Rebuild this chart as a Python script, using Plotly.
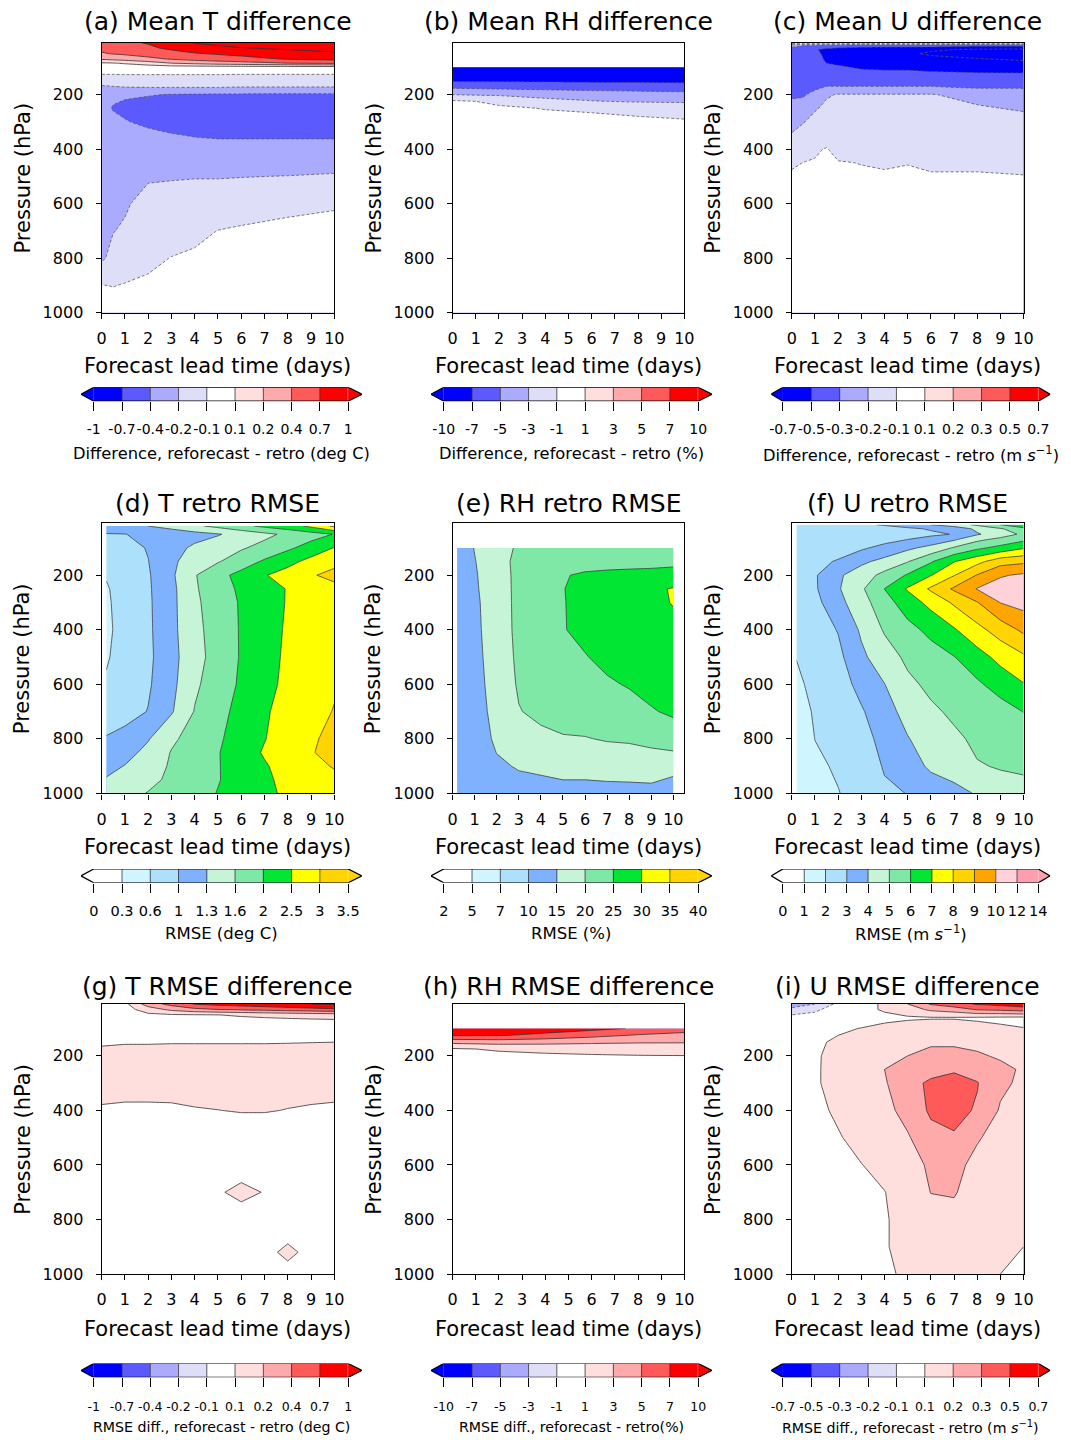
import numpy as np
import plotly.graph_objects as go

W, H = 1071, 1440
FONT = "DejaVu Sans"

# ---------------- contour levels (also colour-bar tick labels) ----------------
T_DIFF_LEVELS = [-1, -0.7, -0.4, -0.2, -0.1, 0.1, 0.2, 0.4, 0.7, 1]
RH_DIFF_LEVELS = [-10, -7, -5, -3, -1, 1, 3, 5, 7, 10]
U_DIFF_LEVELS = [-0.7, -0.5, -0.3, -0.2, -0.1, 0.1, 0.2, 0.3, 0.5, 0.7]
T_RMSE_LEVELS = [0, 0.3, 0.6, 1, 1.3, 1.6, 2, 2.5, 3, 3.5]
RH_RMSE_LEVELS = [2, 5, 7, 10, 15, 20, 25, 30, 35, 40]
U_RMSE_LEVELS = [0, 1, 2, 3, 4, 5, 6, 7, 8, 9, 10, 12, 14]

# colours: [below-range, band1 ... bandN, above-range]
DIFF_COLORS = ["#0000ff", "#0000ff", "#5a5aff", "#aaaaff", "#dedef8", "#ffffff",
               "#ffdede", "#ffaaaa", "#ff5a5a", "#ff0000", "#ff0000"]
RMSE9_COLORS = ["#ffffff", "#ffffff", "#cff6ff", "#ade0fa", "#7eb2ff", "#c6f4d6",
                "#80e8a6", "#00e632", "#ffff00", "#ffd400", "#ffd400"]
RMSE12_COLORS = ["#ffffff", "#ffffff", "#cff6ff", "#ade0fa", "#7eb2ff", "#c6f4d6",
                 "#80e8a6", "#00e632", "#ffff00", "#ffd400", "#ffa500", "#ffd2da",
                 "#ff9eac", "#ff9eac"]

# ---------------- (a) Mean T difference ----------------
A_LEAD = [0, 0.5, 1, 2, 3, 4, 5, 6, 8, 10]
A_PRES = [10, 30, 50, 70, 85, 100, 120, 150, 175, 200, 250, 300, 350, 400, 500, 600, 700, 800, 900, 1000]
A_VALS = [
    [0.55, 0.6, 0.65, 0.72, 0.85, 1.02, 1.1, 1.15, 1.25, 1.3],
    [0.48, 0.52, 0.56, 0.65, 0.75, 0.85, 0.92, 0.98, 1.05, 1.1],
    [0.38, 0.42, 0.45, 0.52, 0.6, 0.68, 0.73, 0.78, 0.88, 0.95],
    [0.22, 0.25, 0.28, 0.35, 0.42, 0.5, 0.55, 0.6, 0.72, 0.78],
    [0.08, 0.09, 0.11, 0.15, 0.2, 0.25, 0.3, 0.33, 0.4, 0.45],
    [-0.02, -0.02, -0.02, -0.01, 0.0, 0.0, 0.0, 0.0, 0.0, 0.0],
    [-0.07, -0.07, -0.07, -0.07, -0.07, -0.07, -0.07, -0.07, -0.07, -0.07],
    [-0.16, -0.16, -0.15, -0.15, -0.15, -0.15, -0.15, -0.16, -0.16, -0.16],
    [-0.24, -0.22, -0.21, -0.205, -0.205, -0.205, -0.205, -0.21, -0.21, -0.21],
    [-0.3, -0.36, -0.38, -0.39, -0.41, -0.42, -0.43, -0.43, -0.44, -0.44],
    [-0.33, -0.42, -0.45, -0.5, -0.55, -0.57, -0.58, -0.58, -0.58, -0.58],
    [-0.3, -0.35, -0.39, -0.45, -0.48, -0.5, -0.5, -0.5, -0.5, -0.5],
    [-0.28, -0.3, -0.32, -0.36, -0.39, -0.41, -0.42, -0.42, -0.42, -0.42],
    [-0.28, -0.28, -0.3, -0.32, -0.34, -0.35, -0.36, -0.36, -0.36, -0.36],
    [-0.28, -0.27, -0.25, -0.22, -0.215, -0.21, -0.21, -0.205, -0.198, -0.19],
    [-0.27, -0.24, -0.22, -0.17, -0.16, -0.15, -0.15, -0.14, -0.11, -0.105],
    [-0.25, -0.205, -0.19, -0.15, -0.14, -0.12, -0.097, -0.08, -0.08, -0.07],
    [-0.23, -0.17, -0.15, -0.12, -0.095, -0.075, -0.07, -0.06, -0.05, -0.05],
    [-0.095, -0.102, -0.09, -0.07, -0.06, -0.05, -0.04, -0.03, -0.03, -0.03],
    [-0.04, -0.04, -0.04, -0.03, -0.03, -0.03, -0.03, -0.03, -0.03, -0.03],
]

# ---------------- (b) Mean RH difference ----------------
B_LEAD = [0, 2, 4, 6, 8, 10]
B_PRES = [100, 125, 150, 175, 200, 225, 250, 300, 400, 600, 1000]
B_VALS = [
    [-9.8, -9.8, -9.8, -9.8, -9.8, -9.8],
    [-9.0, -9.0, -9.0, -9.0, -9.0, -9.0],
    [-7.3, -7.3, -7.4, -7.5, -7.5, -7.6],
    [-5.2, -5.4, -5.6, -5.8, -5.9, -6.0],
    [-3.05, -3.3, -3.6, -3.9, -4.1, -4.3],
    [-0.7, -1.3, -2.5, -2.9, -3.2, -3.3],
    [-0.5, -0.8, -1.05, -1.15, -1.3, -1.6],
    [-0.3, -0.5, -0.6, -0.7, -0.8, -0.85],
    [-0.2, -0.2, -0.2, -0.2, -0.2, -0.2],
    [-0.1, -0.1, -0.1, -0.1, -0.1, -0.1],
    [0.0, 0.0, 0.0, 0.0, 0.0, 0.0],
]

# ---------------- (c) Mean U difference ----------------
C_LEAD = [0, 0.5, 1, 1.5, 2, 3, 4, 5, 6, 8, 10]
C_PRES = [10, 20, 35, 50, 75, 100, 125, 150, 175, 200, 250, 300, 350, 400, 450, 500, 600, 800, 1000]
C_VALS = [
    [0.02, 0.02, 0.02, 0.02, 0.02, 0.02, 0.02, 0.02, 0.02, 0.02, 0.02],
    [-0.25, -0.3, -0.3, -0.35, -0.35, -0.4, -0.4, -0.4, -0.4, -0.45, -0.45],
    [-0.4, -0.45, -0.48, -0.55, -0.6, -0.62, -0.65, -0.65, -0.68, -0.72, -0.74],
    [-0.4, -0.48, -0.45, -0.55, -0.6, -0.62, -0.65, -0.68, -0.72, -0.75, -0.76],
    [-0.38, -0.42, -0.42, -0.52, -0.55, -0.58, -0.6, -0.62, -0.65, -0.68, -0.7],
    [-0.38, -0.4, -0.4, -0.47, -0.48, -0.52, -0.53, -0.53, -0.55, -0.58, -0.6],
    [-0.37, -0.38, -0.38, -0.42, -0.43, -0.45, -0.46, -0.46, -0.47, -0.48, -0.48],
    [-0.36, -0.36, -0.36, -0.37, -0.38, -0.38, -0.38, -0.38, -0.38, -0.38, -0.38],
    [-0.35, -0.35, -0.33, -0.29, -0.29, -0.29, -0.29, -0.29, -0.29, -0.31, -0.31],
    [-0.33, -0.32, -0.27, -0.21, -0.195, -0.195, -0.195, -0.195, -0.195, -0.23, -0.25],
    [-0.27, -0.26, -0.21, -0.18, -0.17, -0.17, -0.17, -0.17, -0.17, -0.19, -0.21],
    [-0.24, -0.205, -0.17, -0.16, -0.15, -0.15, -0.15, -0.15, -0.15, -0.16, -0.17],
    [-0.19, -0.16, -0.15, -0.14, -0.14, -0.14, -0.14, -0.14, -0.14, -0.14, -0.15],
    [-0.15, -0.13, -0.11, -0.09, -0.13, -0.12, -0.13, -0.13, -0.13, -0.13, -0.14],
    [-0.11, -0.098, -0.09, -0.08, -0.09, -0.102, -0.11, -0.102, -0.11, -0.11, -0.12],
    [-0.08, -0.07, -0.06, -0.06, -0.07, -0.08, -0.08, -0.08, -0.09, -0.09, -0.095],
    [-0.05, -0.05, -0.05, -0.05, -0.05, -0.05, -0.05, -0.05, -0.05, -0.05, -0.05],
    [-0.03, -0.03, -0.03, -0.03, -0.03, -0.03, -0.03, -0.03, -0.03, -0.03, -0.03],
    [-0.02, -0.02, -0.02, -0.02, -0.02, -0.02, -0.02, -0.02, -0.02, -0.02, -0.02],
]

# ---------------- (d) T retro RMSE ----------------
D_LEAD = [0.2, 1, 2, 3, 4, 5, 6, 7, 8, 9, 10]
D_PRES = [20, 50, 100, 150, 200, 250, 300, 400, 500, 600, 700, 800, 850, 900, 950, 1000]
D_VALS = [
    [1.15, 1.2, 1.3, 1.4, 1.55, 1.7, 1.9, 2.1, 2.3, 2.6, 3.1],
    [0.98, 0.99, 1.08, 1.13, 1.2, 1.28, 1.4, 1.53, 1.68, 1.84, 2.02],
    [0.75, 0.85, 1.02, 1.2, 1.35, 1.45, 1.57, 1.72, 1.93, 2.2, 2.52],
    [0.68, 0.8, 0.99, 1.26, 1.4, 1.58, 1.8, 2.07, 2.35, 2.65, 2.85],
    [0.62, 0.75, 0.96, 1.25, 1.58, 1.88, 2.15, 2.47, 2.7, 2.95, 3.15],
    [0.58, 0.72, 0.95, 1.22, 1.57, 1.8, 2.1, 2.35, 2.52, 2.7, 2.85],
    [0.57, 0.71, 0.94, 1.22, 1.55, 1.78, 2.05, 2.3, 2.53, 2.65, 2.75],
    [0.56, 0.7, 0.93, 1.22, 1.52, 1.77, 2.04, 2.33, 2.55, 2.7, 2.8],
    [0.58, 0.71, 0.92, 1.2, 1.5, 1.75, 2.04, 2.35, 2.57, 2.72, 2.85],
    [0.63, 0.75, 0.95, 1.22, 1.55, 1.8, 2.07, 2.37, 2.6, 2.8, 2.95],
    [0.8, 0.85, 1.01, 1.27, 1.62, 1.88, 2.15, 2.45, 2.65, 2.85, 3.02],
    [1.02, 1.1, 1.28, 1.55, 1.75, 1.95, 2.2, 2.48, 2.75, 2.95, 3.1],
    [1.12, 1.2, 1.38, 1.62, 1.8, 1.98, 2.25, 2.55, 2.8, 2.98, 3.1],
    [1.22, 1.31, 1.45, 1.65, 1.82, 1.98, 2.22, 2.45, 2.7, 2.88, 3.03],
    [1.32, 1.4, 1.52, 1.68, 1.83, 1.98, 2.2, 2.42, 2.62, 2.78, 2.9],
    [1.4, 1.5, 1.62, 1.72, 1.85, 2.02, 2.18, 2.4, 2.58, 2.72, 2.85],
]

# ---------------- (e) RH retro RMSE ----------------
E_LEAD = [0.2, 1, 2, 3, 4, 5, 6, 7, 8, 9, 10]
E_PRES = [100, 150, 200, 250, 300, 400, 500, 600, 700, 800, 850, 900, 950, 1000]
E_VALS = [
    [12, 15.2, 18.5, 20.5, 22, 23, 23.5, 23.5, 24, 24, 24.5],
    [12, 14.8, 18.5, 21, 23, 23.5, 23.8, 24, 24, 24, 24],
    [12, 14.5, 18.2, 21, 23.5, 24.8, 25.4, 25.6, 25.8, 26, 26.5],
    [12, 14.3, 18.1, 21, 23.5, 24.9, 26, 26.8, 27.5, 29.2, 30.3],
    [12, 14, 18, 21, 23.5, 24.8, 26.3, 27.3, 28.3, 29.5, 30.1],
    [12, 13.8, 17.8, 21, 23.5, 24.8, 26, 27, 28, 29, 29.5],
    [12, 13.5, 17.5, 20.8, 23, 24.5, 24.8, 26, 27, 28, 28.5],
    [12, 13.3, 17, 20.5, 22.5, 24, 23.5, 24.5, 25.3, 27, 27.5],
    [12, 13, 16.5, 19.8, 21, 22.5, 22, 22.5, 23.5, 24.5, 26],
    [12, 12.5, 15.8, 18, 19, 19.5, 19.8, 20.3, 20.5, 21, 21.5],
    [12, 12, 15.1, 17, 17.5, 18, 18.5, 18.8, 19, 19.5, 19.8],
    [11.5, 11.5, 14, 15.5, 16, 16.5, 16.8, 17, 17, 17.5, 16.5],
    [11, 11, 13, 14, 14.5, 15, 15, 15.2, 15.3, 15.5, 14.5],
    [10.5, 10.5, 12, 12.5, 13, 13.5, 13.5, 13.5, 13.5, 13.5, 13],
]

# ---------------- (f) U retro RMSE ----------------
F_LEAD = [0.2, 1, 2, 3, 4, 5, 6, 7, 8, 9, 10]
F_PRES = [15, 30, 50, 70, 100, 150, 200, 250, 300, 400, 500, 600, 700, 800, 900, 1000]
F_VALS = [
    [2.1, 2.3, 2.5, 2.8, 3.1, 3.5, 4.0, 4.5, 5.2, 6.0, 7.0],
    [2.05, 2.15, 2.25, 2.4, 2.6, 2.8, 3.1, 3.4, 4.2, 4.9, 5.6],
    [2.05, 2.1, 2.2, 2.3, 2.4, 2.6, 2.8, 3.05, 3.9, 4.5, 5.2],
    [2.1, 2.15, 2.3, 2.5, 2.7, 3.02, 3.4, 3.9, 4.8, 5.3, 5.8],
    [2.2, 2.3, 2.5, 2.85, 3.3, 3.8, 4.3, 5.1, 5.8, 6.3, 6.9],
    [2.35, 2.7, 3.1, 3.8, 4.3, 4.95, 5.9, 6.95, 7.7, 8.6, 8.8],
    [2.45, 2.9, 3.85, 4.5, 5.3, 6.1, 6.95, 7.95, 9.05, 9.9, 10.3],
    [2.4, 2.88, 3.9, 4.85, 6.01, 7.1, 8.15, 9.15, 10.1, 10.9, 11.6],
    [2.3, 2.7, 3.7, 4.6, 5.6, 6.5, 7.3, 8.15, 8.95, 10.05, 10.7],
    [2.15, 2.5, 3.05, 4.15, 5.1, 5.7, 6.25, 6.9, 7.7, 8.45, 9.2],
    [2.02, 2.35, 2.75, 3.8, 4.55, 5.2, 5.6, 5.97, 6.6, 7.3, 7.85],
    [1.85, 2.2, 2.55, 3.3, 3.98, 4.8, 5.2, 5.5, 5.85, 6.4, 6.95],
    [1.6, 2.1, 2.4, 2.9, 3.6, 4.35, 4.85, 5.15, 5.4, 5.6, 6.02],
    [1.4, 2.01, 2.25, 2.65, 3.3, 3.95, 4.45, 4.85, 5.15, 5.3, 5.5],
    [1.3, 1.85, 2.1, 2.45, 3.08, 3.45, 4.2, 4.3, 4.95, 5.05, 5.12],
    [1.2, 1.7, 1.97, 2.3, 2.85, 3.02, 3.3, 3.8, 4.05, 4.7, 4.75],
]

# ---------------- (g) T RMSE difference ----------------
G_LEAD = [0, 1, 2, 3, 4, 5, 6, 7, 8, 9, 10]
G_PRES = [10, 30, 50, 80, 120, 150, 200, 250, 300, 350, 400, 450, 550, 650, 700, 750, 850, 920, 1000]
G_VALS = [
    [0.02, 0.05, 0.3, 0.5, 0.72, 0.8, 0.85, 0.9, 0.95, 1.0, 1.05],
    [0.0, 0.02, 0.15, 0.25, 0.35, 0.4, 0.45, 0.5, 0.55, 0.6, 0.65],
    [0.0, 0.0, 0.06, 0.08, 0.09, 0.098, 0.11, 0.12, 0.13, 0.14, 0.15],
    [0.02, 0.02, 0.02, 0.02, 0.02, 0.02, 0.02, 0.02, 0.02, 0.02, 0.02],
    [0.05, 0.05, 0.05, 0.06, 0.06, 0.06, 0.06, 0.06, 0.07, 0.07, 0.08],
    [0.075, 0.085, 0.085, 0.09, 0.09, 0.09, 0.09, 0.09, 0.093, 0.097, 0.1],
    [0.13, 0.14, 0.14, 0.14, 0.14, 0.14, 0.14, 0.14, 0.14, 0.14, 0.14],
    [0.14, 0.14, 0.14, 0.14, 0.14, 0.14, 0.14, 0.14, 0.14, 0.14, 0.14],
    [0.13, 0.13, 0.13, 0.13, 0.13, 0.13, 0.13, 0.13, 0.13, 0.13, 0.13],
    [0.11, 0.108, 0.108, 0.108, 0.115, 0.12, 0.125, 0.125, 0.115, 0.11, 0.105],
    [0.085, 0.075, 0.075, 0.08, 0.09, 0.098, 0.105, 0.105, 0.095, 0.085, 0.085],
    [0.05, 0.05, 0.05, 0.05, 0.05, 0.05, 0.05, 0.05, 0.05, 0.05, 0.05],
    [0.04, 0.04, 0.04, 0.04, 0.04, 0.04, 0.04, 0.04, 0.04, 0.04, 0.04],
    [0.05, 0.05, 0.05, 0.05, 0.05, 0.05, 0.05, 0.05, 0.05, 0.05, 0.05],
    [0.04, 0.04, 0.04, 0.04, 0.04, 0.05, 0.16, 0.08, 0.04, 0.04, 0.04],
    [0.05, 0.05, 0.05, 0.05, 0.05, 0.05, 0.05, 0.05, 0.05, 0.05, 0.05],
    [0.05, 0.05, 0.05, 0.05, 0.05, 0.05, 0.05, 0.05, 0.05, 0.05, 0.05],
    [0.05, 0.05, 0.05, 0.05, 0.05, 0.05, 0.05, 0.05, 0.12, 0.05, 0.05],
    [0.04, 0.04, 0.04, 0.04, 0.04, 0.04, 0.04, 0.04, 0.04, 0.04, 0.04],
]

# ---------------- (h) RH RMSE difference ----------------
H_LEAD = [0, 2, 4, 6, 8, 10]
H_PRES = [100, 125, 150, 175, 200, 250, 1000]
H_VALS = [
    [9.5, 9.2, 8.5, 7.8, 6.8, 6.0],
    [7.3, 7.2, 6.5, 5.6, 4.8, 4.3],
    [3.5, 3.8, 3.6, 3.3, 3.1, 3.05],
    [0.8, 1.2, 1.5, 1.8, 2.2, 2.5],
    [0.5, 0.6, 0.7, 0.8, 0.9, 0.95],
    [0.3, 0.3, 0.3, 0.3, 0.3, 0.3],
    [0.0, 0.0, 0.0, 0.0, 0.0, 0.0],
]

# ---------------- (i) U RMSE difference ----------------
I_LEAD = [0, 1, 2, 3, 4, 5, 6, 7, 8, 9, 10]
I_PRES = [10, 30, 60, 100, 150, 200, 250, 300, 400, 500, 600, 700, 800, 900, 1000]
I_VALS = [
    [-0.3, -0.2, -0.05, 0.0, 0.12, 0.2, 0.32, 0.42, 0.52, 0.56, 0.62],
    [-0.15, -0.12, 0.0, 0.05, 0.11, 0.15, 0.22, 0.25, 0.32, 0.35, 0.4],
    [-0.05, -0.02, 0.02, 0.04, 0.06, 0.08, 0.09, 0.09, 0.08, 0.07, 0.06],
    [0.0, 0.04, 0.08, 0.102, 0.12, 0.13, 0.13, 0.13, 0.12, 0.11, 0.102],
    [0.02, 0.08, 0.11, 0.14, 0.16, 0.18, 0.19, 0.19, 0.18, 0.16, 0.15],
    [0.03, 0.085, 0.12, 0.15, 0.18, 0.2, 0.22, 0.22, 0.21, 0.19, 0.17],
    [0.04, 0.08, 0.13, 0.16, 0.2, 0.23, 0.27, 0.29, 0.26, 0.22, 0.19],
    [0.04, 0.08, 0.13, 0.16, 0.19, 0.27, 0.33, 0.36, 0.31, 0.22, 0.18],
    [0.03, 0.07, 0.11, 0.14, 0.17, 0.235, 0.33, 0.36, 0.29, 0.19, 0.15],
    [0.02, 0.05, 0.09, 0.12, 0.15, 0.19, 0.27, 0.29, 0.21, 0.16, 0.14],
    [0.02, 0.04, 0.07, 0.097, 0.12, 0.15, 0.22, 0.23, 0.17, 0.14, 0.13],
    [0.02, 0.04, 0.06, 0.08, 0.097, 0.13, 0.202, 0.21, 0.14, 0.13, 0.12],
    [0.02, 0.04, 0.06, 0.08, 0.09, 0.12, 0.16, 0.16, 0.13, 0.12, 0.11],
    [0.02, 0.04, 0.06, 0.07, 0.09, 0.12, 0.14, 0.14, 0.12, 0.11, 0.1],
    [0.02, 0.04, 0.06, 0.07, 0.08, 0.11, 0.13, 0.13, 0.12, 0.1, 0.08],
]

# ---------------- layout geometry (pixels) ----------------
COL_X = [(98, 334), (454, 689), (798, 1033)]
ROW_Y = [(43, 315), (527, 799), (1011, 1283)]
CB_X = [(77, 90, 348, 362), (432, 445, 703, 717), (777, 789, 1048, 1060)]
CB_Y = [(390, 404), (875, 889), (1373, 1387)]
CB_TICK_FS = [14, 14.5, 12.5]
CB_TICK_STANDOFF = [6, 6, 9]
CB_TITLE_FS = [16.3, 16.5, 14.2]
CB_TITLE_Y = [457, 940, 1437]
TITLE_Y = [22, 507, 993]
XLAB_Y = [369, 853, 1338]
YLAB_X = [18, 374, 718]

PANELS = [
    dict(lead=A_LEAD, pres=A_PRES, vals=A_VALS, lev=T_DIFF_LEVELS, col=DIFF_COLORS, diff=True,
         title="(a) Mean T difference", cb="Difference, reforecast - retro (deg C)", xmax=10),
    dict(lead=B_LEAD, pres=B_PRES, vals=B_VALS, lev=RH_DIFF_LEVELS, col=DIFF_COLORS, diff=True,
         title="(b) Mean RH difference", cb="Difference, reforecast - retro (%)", xmax=10),
    dict(lead=C_LEAD, pres=C_PRES, vals=C_VALS, lev=U_DIFF_LEVELS, col=DIFF_COLORS, diff=True,
         title="(c) Mean U difference", cb="Difference, reforecast - retro (m <i>s</i><sup>−1</sup>)", xmax=10),
    dict(lead=D_LEAD, pres=D_PRES, vals=D_VALS, lev=T_RMSE_LEVELS, col=RMSE9_COLORS, diff=False,
         title="(d) T retro RMSE", cb="RMSE (deg C)", xmax=10),
    dict(lead=E_LEAD, pres=E_PRES, vals=E_VALS, lev=RH_RMSE_LEVELS, col=RMSE9_COLORS, diff=False,
         title="(e) RH retro RMSE", cb="RMSE (%)", xmax=10.5),
    dict(lead=F_LEAD, pres=F_PRES, vals=F_VALS, lev=U_RMSE_LEVELS, col=RMSE12_COLORS, diff=False,
         title="(f) U retro RMSE", cb="RMSE (m <i>s</i><sup>−1</sup>)", xmax=10),
    dict(lead=G_LEAD, pres=G_PRES, vals=G_VALS, lev=T_DIFF_LEVELS, col=DIFF_COLORS, diff=True,
         title="(g) T RMSE difference", cb="RMSE diff., reforecast - retro (deg C)", xmax=10),
    dict(lead=H_LEAD, pres=H_PRES, vals=H_VALS, lev=RH_DIFF_LEVELS, col=DIFF_COLORS, diff=True,
         title="(h) RH RMSE difference", cb="RMSE diff., reforecast - retro(%)", xmax=10),
    dict(lead=I_LEAD, pres=I_PRES, vals=I_VALS, lev=U_DIFF_LEVELS, col=DIFF_COLORS, diff=True,
         title="(i) U RMSE difference", cb="RMSE diff., reforecast - retro (m <i>s</i><sup>−1</sup>)", xmax=10),
]


def to_index(vals, levels):
    """Map physical values onto contour-level index space (non-uniform levels)."""
    v = np.asarray(vals, dtype=float)
    L = np.asarray(levels, dtype=float)
    idx = np.interp(v, L, np.arange(len(L)))
    lo = v < L[0]
    hi = v > L[-1]
    idx[lo] = (v[lo] - L[0]) / (L[1] - L[0])
    idx[hi] = len(L) - 1 + (v[hi] - L[-1]) / (L[-1] - L[-2])
    return idx


def fmt(v):
    return f"{v:g}"


fig = go.Figure()
layout = dict(
    width=W, height=H, margin=dict(l=0, r=0, t=0, b=0),
    paper_bgcolor="white", plot_bgcolor="white", showlegend=False,
    font=dict(family=FONT, color="black"),
)
annotations = []


def ann(x, y, text, size, angle=0):
    annotations.append(dict(x=x / W, y=1 - y / H, xref="paper", yref="paper", text=text,
                            showarrow=False, xanchor="center", yanchor="middle",
                            textangle=angle, font=dict(size=size, family=FONT, color="black")))


for k, pnl in enumerate(PANELS):
    r, c = divmod(k, 3)
    ax = k + 1            # main axes id
    cbx = k + 10          # colour-bar axes id
    xs = "x" + (str(ax) if ax > 1 else "")
    ys = "y" + (str(ax) if ax > 1 else "")
    x0, x1 = COL_X[c]
    y0, y1 = ROW_Y[r]
    lev = pnl["lev"]
    cols = pnl["col"]
    n = len(lev)
    z = to_index(pnl["vals"], lev)
    cscale = [[i / n, cols[i]] for i in range(n + 1)]

    if pnl["diff"]:
        fill_line = dict(color="rgba(0,0,0,0)", width=0, smoothing=0)
    else:
        fill_line = dict(color="#404040", width=0.8, smoothing=0)
    fig.add_trace(go.Contour(
        x=pnl["lead"], y=pnl["pres"], z=z, autocontour=False,
        contours=dict(start=0, end=n - 1, size=1, coloring="fill", showlines=True),
        colorscale=cscale, zmin=-0.5, zmax=n - 0.5, showscale=False,
        line=fill_line, xaxis=xs, yaxis=ys, hoverinfo="skip"))
    if pnl["diff"]:
        half = n // 2
        fig.add_trace(go.Contour(
            x=pnl["lead"], y=pnl["pres"], z=z, autocontour=False,
            contours=dict(start=0, end=half - 1, size=1, coloring="none", showlines=True),
            line=dict(color="#555555", width=0.8, dash="3px,2px", smoothing=0),
            showscale=False, xaxis=xs, yaxis=ys, hoverinfo="skip"))
        fig.add_trace(go.Contour(
            x=pnl["lead"], y=pnl["pres"], z=z, autocontour=False,
            contours=dict(start=half, end=n - 1, size=1, coloring="none", showlines=True),
            line=dict(color="#303030", width=0.8, smoothing=0),
            showscale=False, xaxis=xs, yaxis=ys, hoverinfo="skip"))

    axstyle = dict(ticks="outside", ticklen=5, tickwidth=1, tickcolor="black",
                   showline=True, linecolor="black", linewidth=1.2, mirror=True,
                   showgrid=False, zeroline=False, tickfont=dict(size=16, family=FONT))
    layout["xaxis" + (str(ax) if ax > 1 else "")] = dict(
        domain=[x0 / W, x1 / W], anchor=ys, range=[0, pnl["xmax"]],
        tickvals=list(range(11)), ticklabelstandoff=6, tickangle=0, **axstyle)
    layout["yaxis" + (str(ax) if ax > 1 else "")] = dict(
        domain=[1 - y1 / H, 1 - y0 / H], anchor=xs, range=[1000, 10],
        tickvals=[200, 400, 600, 800, 1000], ticklabelstandoff=9, **axstyle)

    ann((x0 + x1) / 2, TITLE_Y[r], pnl["title"], 25)
    ann((x0 + x1) / 2, XLAB_Y[r], "Forecast lead time (days)", 21)
    ann(YLAB_X[c], (y0 + y1) / 2, "Pressure (hPa)", 21, angle=-90)

    # ---- colour bar drawn as a small strip axis ----
    t0, b0, b1, t1 = CB_X[c]
    cy0, cy1 = CB_Y[r]
    nb = n - 1
    ppu = (b1 - b0) / nb
    e0 = (b0 - t0) / ppu
    e1 = (t1 - b1) / ppu
    cxs = "x" + str(cbx)
    cys = "y" + str(cbx)
    band_cols = cols[1:n]
    dscale = []
    for i, cc in enumerate(band_cols):
        dscale.append([i / nb, cc])
        dscale.append([(i + 1) / nb, cc])
    fig.add_trace(go.Heatmap(z=[list(range(nb))], x=[i + 0.5 for i in range(nb)], y=[0.5],
                             colorscale=dscale, zmin=-0.5, zmax=nb - 0.5, showscale=False,
                             xaxis=cxs, yaxis=cys, hoverinfo="skip"))
    fig.add_trace(go.Scatter(x=[-e0, 0, 0, -e0], y=[0.5, 1, 0, 0.5], fill="toself",
                             fillcolor=cols[0], mode="none", xaxis=cxs, yaxis=cys,
                             hoverinfo="skip", cliponaxis=False))
    fig.add_trace(go.Scatter(x=[nb + e1, nb, nb, nb + e1], y=[0.5, 1, 0, 0.5], fill="toself",
                             fillcolor=cols[n], mode="none", xaxis=cxs, yaxis=cys,
                             hoverinfo="skip", cliponaxis=False))
    sx, sy = [], []
    for i in range(1, nb):
        sx += [i, i, None]
        sy += [0, 1, None]
    fig.add_trace(go.Scatter(x=sx, y=sy, mode="lines", line=dict(color="#333333", width=0.8),
                             xaxis=cxs, yaxis=cys, hoverinfo="skip", cliponaxis=False))
    fig.add_trace(go.Scatter(x=[-e0, 0, nb, nb + e1, nb, 0, -e0],
                             y=[0.5, 1, 1, 0.5, 0, 0, 0.5], mode="lines",
                             line=dict(color="black", width=1.2), xaxis=cxs, yaxis=cys,
                             hoverinfo="skip", cliponaxis=False))
    layout["xaxis" + str(cbx)] = dict(
        domain=[t0 / W, t1 / W], anchor=cys, range=[-e0, nb + e1],
        tickvals=list(range(n)), ticktext=[fmt(v) for v in lev], tickangle=0,
        ticks="outside", ticklen=9, tickwidth=1.2, tickcolor="black",
        showline=False, showgrid=False, zeroline=False, fixedrange=True,
        tickfont=dict(size=CB_TICK_FS[r], family=FONT), ticklabelstandoff=CB_TICK_STANDOFF[r])
    layout["yaxis" + str(cbx)] = dict(
        domain=[1 - cy1 / H, 1 - cy0 / H], anchor=cxs, range=[0, 1],
        visible=False, fixedrange=True)
    ann((t0 + t1) / 2, CB_TITLE_Y[r], pnl["cb"], CB_TITLE_FS[r])

layout["annotations"] = annotations
fig.update_layout(**layout)
fig.write_html("out.html")
